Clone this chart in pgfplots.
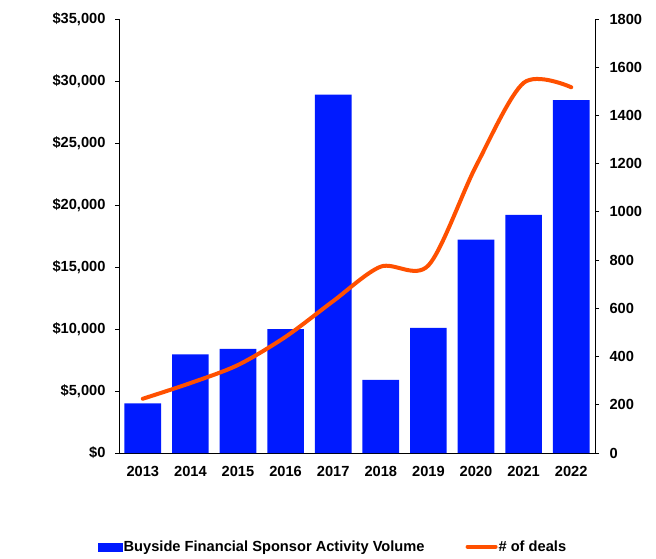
\documentclass[border=0pt]{standalone}
\usepackage{fontspec}
\setmainfont{Liberation Sans}
\usepackage{pgfplots}
\pgfplotsset{compat=1.18}
\definecolor{barblue}{RGB}{0,26,255}
\definecolor{lineorange}{RGB}{255,80,0}
\begin{document}
\begin{tikzpicture}
\useasboundingbox (0,0) rectangle (656pt,558pt);
\pgfplotsset{
  every axis/.append style={
    at={(119pt,105pt)}, anchor=south west,
    scale only axis, width=476pt, height=434pt,
    xmin=-0.5, xmax=9.5,
    font=\fontsize{14.65}{17}\selectfont\bfseries,
    tick label style={font=\fontsize{14.65}{17}\selectfont\bfseries},
    /pgf/number format/assume math mode=true,
    /pgf/number format/fixed,
    scaled y ticks=false,
    tick align=outside,
    major tick length=4pt,
    axis line style={line width=0.9pt, black},
    tick style={line width=0.9pt, black},
  }
}
\begin{axis}[
  axis x line*=bottom, axis y line*=left,
  ymin=0, ymax=35000, ytick={0,5000,...,35000},
  xtick={0,1,2,3,4,5,6,7,8,9},
  xticklabels={2013,2014,2015,2016,2017,2018,2019,2020,2021,2022},
  x tick style={draw=none},
  xticklabel style={yshift=-6pt},
  yticklabel style={xshift=-6pt},
  yticklabel={\$\pgfmathprintnumber[1000 sep={,}]{\tick}},
  ybar, bar width=0.77,
]
\addplot[fill=barblue, draw=none] coordinates {
(0,4000) (1,7950) (2,8400) (3,10000) (4,28900) (5,5900) (6,10100) (7,17200) (8,19200) (9,28450)};
\end{axis}
\begin{axis}[
  axis y line*=right, axis x line=none,
  ymin=0, ymax=1800, ytick={0,200,...,1800},
  yticklabel style={/pgf/number format/1000 sep={}, xshift=7pt},
  legend columns=2,
  legend cell align=left,
  legend style={at={(-0.044,-0.216)}, anchor=west, draw=none, fill=none,
    inner sep=0pt, nodes={inner sep=1pt},
    font=\fontsize{14.65}{17}\selectfont\bfseries,
    /tikz/every even column/.append style={column sep=40pt}},
]
\addlegendimage{legend image code/.code={\fill[barblue] (0pt,-4pt) rectangle (24pt,4pt);}}
\addlegendentry{Buyside Financial Sponsor Activity Volume}
\addplot[lineorange, line width=4pt, smooth, line cap=round,
  legend image code/.code={\draw[lineorange, line width=4pt, line cap=round] (0pt,0pt) -- (28pt,0pt);}]
coordinates {(0,225) (1,290) (2,365) (3,482) (4,630) (5,773) (6,778) (7,1190) (8,1535) (9,1517)};
\addlegendentry{\# of deals}
\end{axis}
\end{tikzpicture}
\end{document}
